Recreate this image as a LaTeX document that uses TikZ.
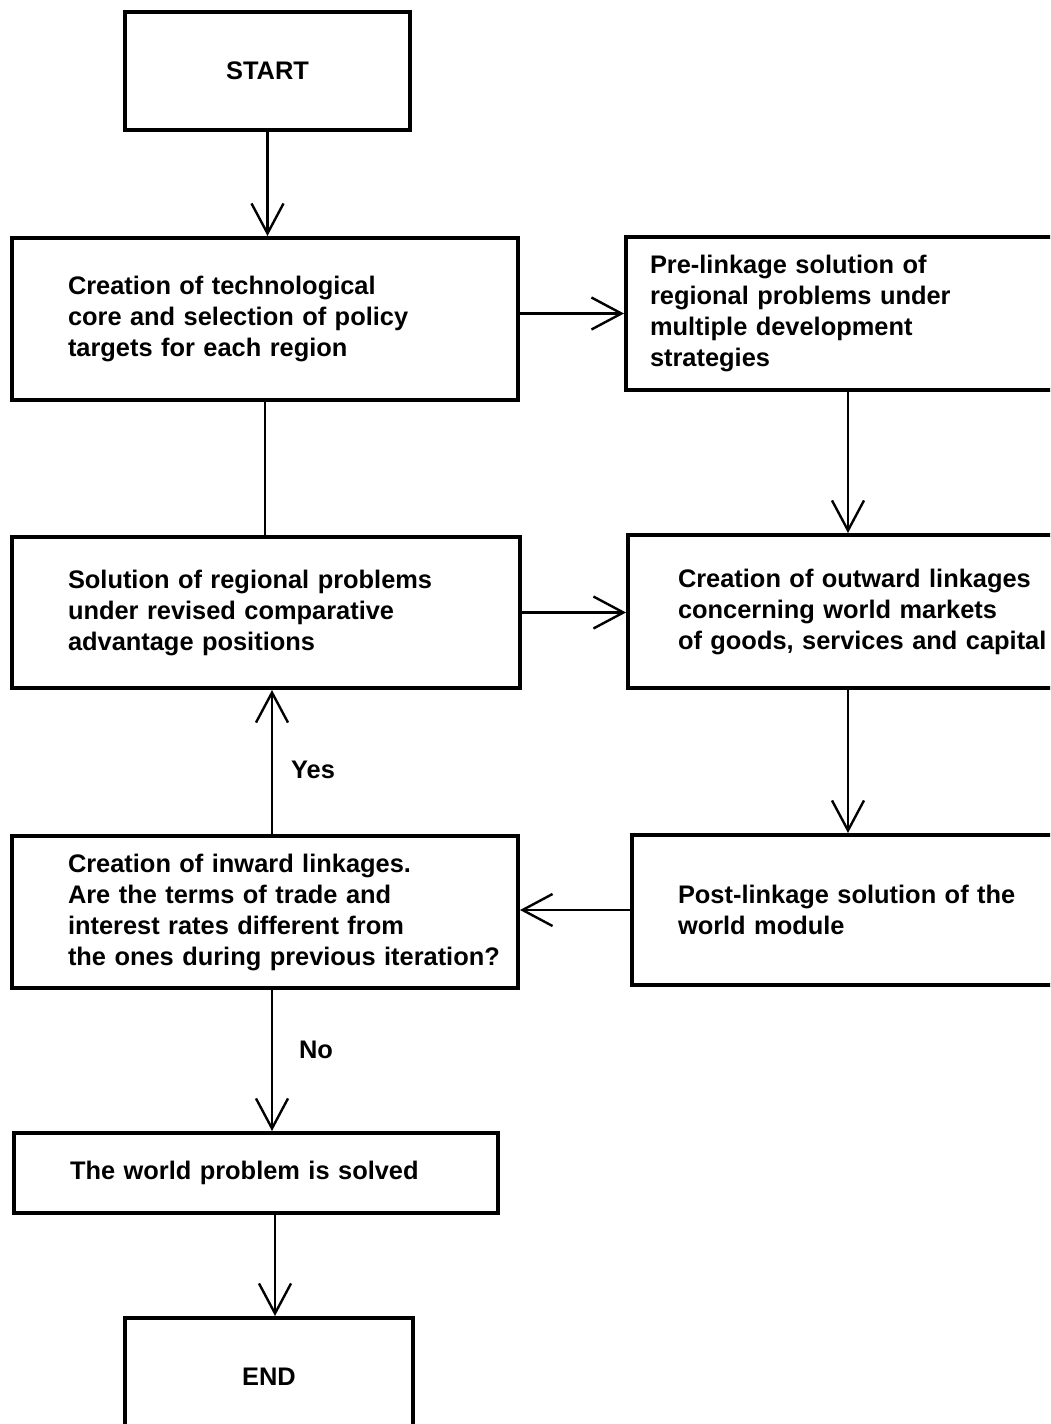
\documentclass[tikz,border=0pt]{standalone}
\usepackage{fontspec}
\setmainfont{Liberation Sans}
\usetikzlibrary{arrows.meta}
\tikzset{
  box/.style={draw, line width=2pt, inner xsep=0pt, inner ysep=0pt, align=left,
    font=\bfseries\fontsize{12.7}{15.5}\selectfont},
  arr/.style={-{Straight Barb[length=15pt,width=16pt]}, line width=1.2pt},
  lbl/.style={font=\bfseries\fontsize{12.7}{15.5}\selectfont}
}

\begin{document}
\begin{tikzpicture}[x=0.5pt,y=-0.5pt]
        \useasboundingbox (0,0) rectangle (1050,1424);
        \clip (0,0) rectangle (1050,1424);

        %% boxes
        \node[box, align=center, minimum width=142.5pt, minimum height=59pt] (start) at (267.5,71) {START};
        \node[box, minimum width=253pt, minimum height=81pt, text width=197pt] (core) at (265,319)
            {Creation of technological\\core and selection of policy\\targets for each region};
        \node[box, minimum width=222pt, minimum height=76.5pt, text width=198pt] (prelink) at (848,313.5)
            {Pre-linkage solution of\\regional problems under\\multiple development\\strategies};
        \node[box, minimum width=254pt, minimum height=75.5pt, text width=198pt] (regional) at (266,612.5)
            {Solution of regional problems\\under revised comparative\\advantage positions};
        \node[box, minimum width=220pt, minimum height=76.5pt, text width=170pt] (outward) at (848,611.5)
            {\mbox{Creation of outward linkages}\\concerning world markets\\\mbox{of goods, services and capital}};
        \node[box, minimum width=253pt, minimum height=76pt, text width=197pt] (inward) at (265,912)
            {Creation of inward linkages.\\Are the terms of trade and\\interest rates different from\\\mbox{the ones during previous iteration?}};
        \node[box, minimum width=216pt, minimum height=75pt, text width=170pt] (postlink) at (848,910)
            {\mbox{Post-linkage solution of the}\\world module};
        \node[box, minimum width=242pt, minimum height=40pt, text width=186pt] (solved) at (256,1173)
            {The world problem is solved};
        \node[box, align=center, minimum width=144pt, minimum height=59pt] (end) at (269,1377) {END};

        % arrows
        \draw[arr] (start.south) -- (start.south |- core.north);
        \draw[arr] (prelink.west -| core.east) -- (prelink.west);
        \draw[line width=1.2pt] (core.south) -- (core.south |- regional.north); %no tip
        \draw[arr] (prelink.south) -- (outward.north);
        \draw[arr] (regional.east) -- (regional.east -| outward.west);
        \draw[arr] (outward.south) -- (postlink.north);
        \draw[arr] (postlink.west) -- (postlink.west -| inward.east);
        \draw[arr] ([xshift=3.5pt]inward.north) -- ([xshift=3.5pt]inward.north |- regional.south);
        \draw[arr] ([xshift=3.5pt]inward.south) -- ([xshift=3.5pt]inward.south |- solved.north);
        \draw[arr] ([xshift=9.5pt]solved.south) -- ([xshift=9.5pt]solved.south |- end.north);

        % labels
        \node[lbl] (yes) at (313,770) {Yes};
        \node[lbl] (no) at (316,1050) {No};
    \end{tikzpicture}
\end{document}
